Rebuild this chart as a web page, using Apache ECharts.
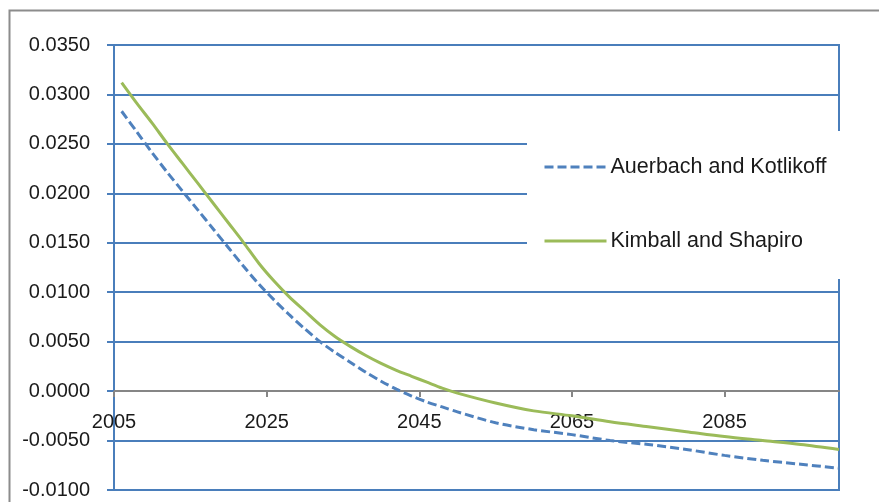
<!DOCTYPE html>
<html>
<head>
<meta charset="utf-8">
<script src="https://cdn.jsdelivr.net/npm/echarts@6/dist/echarts.min.js"></script>
<style>
  html, body { margin: 0; padding: 0; background: #ffffff; }
  #chart { width: 879px; height: 502px; }
</style>
</head>
<body>
<div id="chart"></div>
<script>
// Sample years shared by both projections
const years = [
  2006, 2008, 2010, 2012, 2014, 2016, 2018, 2020, 2022, 2024,
  2026, 2028, 2030, 2032, 2034, 2036, 2038, 2040, 2042, 2044,
  2046, 2048, 2050, 2055, 2060, 2065, 2070, 2075, 2080, 2085,
  2090, 2095, 2100
];

const auerbachKotlikoff = [
  0.0283, 0.0262, 0.0241, 0.0221, 0.0202, 0.0183, 0.0164, 0.0145, 0.0126, 0.0108,
  0.0092, 0.0077, 0.0063, 0.0050, 0.0039, 0.0029, 0.0019, 0.0010, 0.0002, -0.0005,
  -0.0011, -0.0016, -0.0021, -0.0032, -0.0039, -0.0044, -0.0050, -0.0054, -0.0059, -0.0065,
  -0.0070, -0.0074, -0.0078
];

const kimballShapiro = [
  0.0312, 0.0291, 0.0271, 0.0250, 0.0230, 0.0210, 0.0190, 0.0170, 0.0150, 0.0129,
  0.0111, 0.0095, 0.0081, 0.0067, 0.0055, 0.0045, 0.0036, 0.0028, 0.0021, 0.0015,
  0.0009, 0.0003, -0.0002, -0.0012, -0.0020, -0.0025, -0.0031, -0.0036, -0.0041, -0.0046,
  -0.0050, -0.0054, -0.0059
];

const seriesNames = ['Auerbach and Kotlikoff', 'Kimball and Shapiro'];
const xTickLabels = [2005, 2025, 2045, 2065, 2085];
const yMin = -0.01, yMax = 0.035, yStep = 0.005;
const xMin = 2005, xMax = 2100;

const FONT = '"Liberation Sans", Arial, sans-serif';
const BLUE = '#4F81BD';
const GREEN = '#9BBB59';
const GRID_BLUE = '#4A7EBB';
const AXIS_GRAY = '#868686';

const GRID = { left: 114, right: 40, top: 45, bottom: 12 };
const CHART_H = 502;
// The category axis crosses the value axis at zero: lift it from the bottom edge by that share of the plot height
const plotH = CHART_H - GRID.top - GRID.bottom;
const zeroLift = plotH * (0 - yMin) / (yMax - yMin);

const pairs = (vals) => years.map((y, i) => [y, vals[i]]);

const chart = echarts.init(document.getElementById('chart'), null, { renderer: 'canvas' });

chart.setOption({
  animation: false,
  backgroundColor: '#ffffff',
  textStyle: { fontFamily: FONT },
  graphic: [{
    type: 'rect',
    left: 7, top: 8,
    shape: { width: 900, height: 600 },
    style: { fill: 'none', stroke: '#8c8c8c', lineWidth: 2 },
    silent: true, z: -10
  }],
  grid: {
    left: GRID.left, right: GRID.right, top: GRID.top, bottom: GRID.bottom,
    outerBoundsMode: 'none',
    containLabel: false,
    show: true,
    borderColor: GRID_BLUE,
    borderWidth: 2,
    backgroundColor: 'transparent'
  },
  legend: {
    orient: 'vertical',
    left: 527, top: 131,
    padding: [25, 24, 27, 16],
    backgroundColor: '#ffffff',
    itemWidth: 62,
    itemHeight: 20,
    itemGap: 52,
    itemStyle: { opacity: 0, color: 'transparent', borderWidth: 0 },
    lineStyle: { width: 3 },
    textStyle: { fontFamily: FONT, fontSize: 21.5, color: '#1a1a1a', padding: [0, 0, 0, -1] },
    data: seriesNames
  },
  xAxis: {
    type: 'value',
    min: xMin, max: xMax,
    position: 'bottom',
    offset: -zeroLift,
    splitLine: { show: false },
    axisLine: { onZero: false, lineStyle: { color: AXIS_GRAY, width: 2 } },
    axisTick: { show: true, customValues: xTickLabels, length: 6, lineStyle: { color: AXIS_GRAY, width: 2 } },
    axisLabel: {
      customValues: xTickLabels,
      margin: 21,
      fontFamily: FONT, fontSize: 20, color: '#1a1a1a',
      formatter: (v) => String(v)
    }
  },
  yAxis: {
    type: 'value',
    min: yMin, max: yMax, interval: yStep,
    axisLine: { show: true, onZero: false, lineStyle: { color: GRID_BLUE, width: 2 } },
    axisTick: { show: true, length: 7, lineStyle: { color: GRID_BLUE, width: 2 } },
    splitLine: { show: true, lineStyle: { color: GRID_BLUE, width: 2 } },
    axisLabel: {
      margin: 24,
      fontFamily: FONT, fontSize: 20, color: '#1a1a1a',
      formatter: (v) => v.toFixed(4)
    }
  },
  series: [
    {
      name: seriesNames[0],
      type: 'line',
      data: pairs(auerbachKotlikoff),
      smooth: 0.3,
      symbol: 'none',
      lineStyle: { color: BLUE, width: 3, type: [9, 4] },
      itemStyle: { color: BLUE },
      z: 3
    },
    {
      name: seriesNames[1],
      type: 'line',
      data: pairs(kimballShapiro),
      smooth: 0.3,
      symbol: 'none',
      lineStyle: { color: GREEN, width: 3 },
      itemStyle: { color: GREEN },
      z: 3
    }
  ]
});
</script>
</body>
</html>
